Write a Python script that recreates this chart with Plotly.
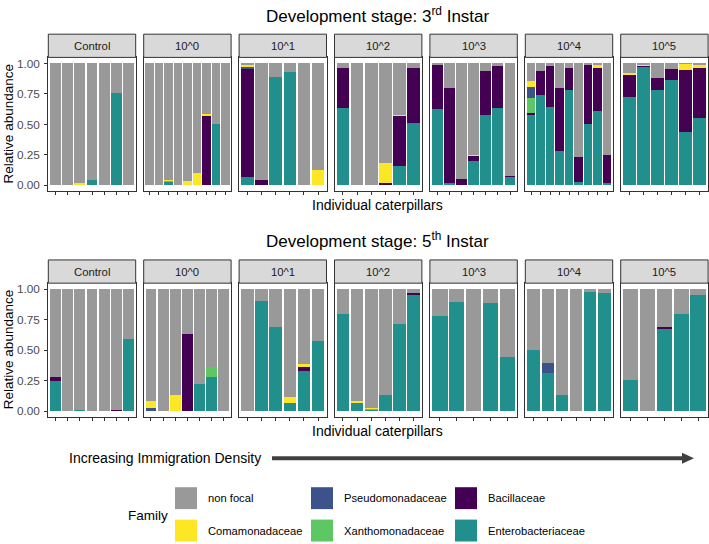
import plotly.graph_objects as go

W, H = 709, 544
FONT = "Liberation Sans, Arial, sans-serif"

panels = ["Control", "10^0", "10^1", "10^2", "10^3", "10^4", "10^5"]
stage_titles = ["Development stage: 3<sup>rd</sup> Instar", "Development stage: 5<sup>th</sup> Instar"]
x_title = "Individual caterpillars"
y_title = "Relative abundance"
y_ticks = [0, 0.25, 0.5, 0.75, 1.0]
y_ticktext = ["0.00", "0.25", "0.50", "0.75", "1.00"]

colors = {
    "non focal": "#999999",
    "Comamonadaceae": "#FDE725",
    "Pseudomonadaceae": "#3B528B",
    "Xanthomonadaceae": "#5DC863",
    "Bacillaceae": "#440154",
    "Enterobacteriaceae": "#21908C",
}

# ---------------- 3rd instar (one sub-list per panel) ----------------
ent3 = [
    [0, 0, 0, 0.04, 0, 0.755, 0],
    [0, 0, 0.025, 0, 0, 0, 0, 0.504, 0],
    [0.068, 0, 0.886, 0.932, 0, 0],
    [0.635, 0, 0, 0.005, 0.155, 0.51],
    [0.627, 0.02, 0, 0.196, 0.58, 0.635, 0.068],
    [0.58, 0.74, 0.64, 0.278, 0.785, 0.03, 0.504, 0.613, 0.02],
    [0.722, 0.975, 0.782, 0.866, 0.441, 0.55],
]
bac3 = [
    [0, 0, 0, 0, 0, 0, 0],
    [0, 0, 0, 0, 0, 0, 0.565, 0, 0],
    [0.886, 0.046, 0, 0, 0, 0],
    [0.332, 0, 0, 0.012, 0.417, 0.457],
    [0.363, 0.775, 0.05, 0.049, 0.355, 0.345, 0.012],
    [0.014, 0.195, 0.34, 0.522, 0.175, 0.2, 0.486, 0.354, 0.225],
    [0.185, 0.005, 0.098, 0.087, 0.505, 0.417],
]
xan3 = [
    [0, 0, 0, 0, 0, 0, 0],
    [0, 0, 0.012, 0, 0, 0, 0, 0, 0],
    [0, 0, 0, 0, 0, 0],
    [0, 0, 0, 0, 0, 0],
    [0, 0, 0, 0, 0, 0, 0],
    [0.12, 0, 0, 0, 0, 0, 0, 0, 0],
    [0, 0, 0, 0, 0, 0],
]
pse3 = [
    [0, 0, 0, 0, 0, 0, 0],
    [0, 0, 0, 0, 0, 0, 0, 0, 0],
    [0.019, 0, 0, 0, 0, 0],
    [0, 0, 0, 0, 0, 0],
    [0, 0, 0, 0, 0, 0, 0],
    [0.096, 0, 0, 0, 0, 0, 0, 0, 0],
    [0, 0, 0, 0, 0, 0],
]
com3 = [
    [0, 0, 0.015, 0, 0, 0, 0],
    [0, 0, 0.004, 0.006, 0.035, 0.104, 0.02, 0, 0],
    [0.016, 0, 0, 0, 0, 0.123],
    [0, 0, 0.004, 0.166, 0.006, 0],
    [0, 0, 0, 0.006, 0, 0, 0],
    [0.048, 0, 0, 0, 0, 0.005, 0, 0.023, 0],
    [0.013, 0.012, 0, 0, 0.049, 0.023],
]

# ---------------- 5th instar ----------------
ent5 = [
    [0.25, 0, 0.005, 0, 0, 0, 0.594],
    [0, 0, 0, 0, 0.226, 0.278, 0],
    [0, 0.905, 0.689, 0.068, 0.327, 0.572],
    [0.798, 0.068, 0.012, 0.128, 0.714, 0.959],
    [0.782, 0.896, 0, 0.891, 0.441],
    [0.499, 0.311, 0.136, 0, 0.975, 0.967],
    [0.256, 0, 0.676, 0.796, 0.954],
]
bac5 = [
    [0.028, 0, 0, 0, 0, 0.012, 0],
    [0, 0, 0, 0.635, 0, 0, 0],
    [0, 0, 0, 0, 0.035, 0],
    [0, 0, 0, 0, 0, 0.008],
    [0, 0, 0, 0, 0],
    [0, 0, 0, 0, 0, 0],
    [0, 0, 0.011, 0, 0],
]
xan5 = [
    [0, 0, 0, 0, 0, 0, 0],
    [0, 0, 0, 0, 0, 0.082, 0],
    [0, 0, 0, 0, 0, 0],
    [0, 0, 0.008, 0, 0, 0],
    [0, 0, 0, 0, 0],
    [0, 0, 0, 0, 0, 0],
    [0, 0, 0, 0, 0],
]
pse5 = [
    [0, 0, 0, 0, 0, 0, 0],
    [0.028, 0, 0, 0, 0, 0, 0],
    [0, 0, 0, 0, 0, 0],
    [0, 0, 0, 0, 0, 0],
    [0, 0, 0, 0, 0],
    [0, 0.087, 0, 0, 0, 0],
    [0, 0, 0, 0, 0],
]
com5 = [
    [0, 0, 0, 0, 0, 0, 0],
    [0.057, 0, 0.128, 0, 0, 0, 0],
    [0, 0, 0, 0.046, 0.025, 0],
    [0, 0.017, 0.006, 0, 0, 0],
    [0, 0, 0, 0, 0],
    [0, 0, 0, 0, 0, 0],
    [0, 0, 0, 0, 0],
]

stages = [
    {"Enterobacteriaceae": ent3, "Bacillaceae": bac3, "Xanthomonadaceae": xan3,
     "Pseudomonadaceae": pse3, "Comamonadaceae": com3},
    {"Enterobacteriaceae": ent5, "Bacillaceae": bac5, "Xanthomonadaceae": xan5,
     "Pseudomonadaceae": pse5, "Comamonadaceae": com5},
]
stack_order = ["Enterobacteriaceae", "Bacillaceae", "Xanthomonadaceae",
               "Pseudomonadaceae", "Comamonadaceae"]

# ---------------- geometry (pixels) ----------------
panel_left0 = 48.3
panel_w = 87.4
panel_step = 95.4
row_panel = [(56.6, 191.1), (283.2, 417.7)]
row_strip = [(33.3, 56.6), (259.9, 283.2)]
row_title_y = [14, 240]
row_xtitle_y = [205, 432]


def px(x):
    return x / W


def py(y):
    return 1 - y / H


fig = go.Figure()
layout = {}
shapes = []
annotations = []

for r, data in enumerate(stages):
    top, bot = row_panel[r]
    for j in range(7):
        idx = r * 7 + j + 1
        sfx = "" if idx == 1 else str(idx)
        n = len(data["Enterobacteriaceae"][j])
        xs = list(range(n))
        totals = [0.0] * n
        for fam in stack_order:
            vals = data[fam][j]
            totals = [t + v for t, v in zip(totals, vals)]
            fig.add_trace(go.Bar(
                x=xs, y=vals, xaxis="x" + sfx, yaxis="y" + sfx,
                marker=dict(color=colors[fam], line=dict(width=0)),
                showlegend=False, name=fam,
            ))
        nonfocal = [max(0.0, 1 - t) for t in totals]
        fig.add_trace(go.Bar(
            x=xs, y=nonfocal, xaxis="x" + sfx, yaxis="y" + sfx,
            marker=dict(color=colors["non focal"], line=dict(width=0)),
            showlegend=False, name="non focal",
        ))
        L = panel_left0 + j * panel_step
        layout["xaxis" + sfx] = dict(
            domain=[px(L), px(L + panel_w)], anchor="y" + sfx,
            range=[-0.6, n - 0.4], tickvals=xs, showticklabels=False,
            ticks="outside", ticklen=3, tickwidth=1, tickcolor="#333333",
            showline=True, mirror=True, linecolor="#333333", linewidth=1,
            showgrid=False, zeroline=False, fixedrange=True,
        )
        ya = dict(
            domain=[py(bot), py(top)], anchor="x" + sfx,
            range=[-0.05, 1.05], showgrid=False, zeroline=False,
            showline=True, mirror=True, linecolor="#333333", linewidth=1,
            fixedrange=True,
        )
        if j == 0:
            ya.update(tickvals=y_ticks, ticktext=y_ticktext, ticks="outside",
                      ticklen=3, tickwidth=1, tickcolor="#333333",
                      tickfont=dict(family=FONT, size=11.8, color="#4D4D4D"),
                      ticklabelstandoff=2)
        else:
            ya.update(showticklabels=False, ticks="")
        layout["yaxis" + sfx] = ya

        # strip
        s0, s1 = row_strip[r]
        shapes.append(dict(type="rect", xref="paper", yref="paper",
                           x0=px(L), x1=px(L + panel_w), y0=py(s1), y1=py(s0),
                           fillcolor="#D9D9D9", line=dict(color="#333333", width=1)))
        annotations.append(dict(text=panels[j], xref="paper", yref="paper",
                                x=px(L + panel_w / 2), y=py((s0 + s1) / 2),
                                showarrow=False, xanchor="center", yanchor="middle",
                                font=dict(family=FONT, size=11.3, color="#1A1A1A")))

    # titles
    annotations.append(dict(text=stage_titles[r], xref="paper", yref="paper",
                            x=px(378), y=py(row_title_y[r]), showarrow=False,
                            xanchor="center", yanchor="middle",
                            font=dict(family=FONT, size=17, color="#000000")))
    annotations.append(dict(text=x_title, xref="paper", yref="paper",
                            x=px(378), y=py(row_xtitle_y[r]), showarrow=False,
                            xanchor="center", yanchor="middle",
                            font=dict(family=FONT, size=14, color="#000000")))
    annotations.append(dict(text=y_title, xref="paper", yref="paper",
                            x=px(8), y=py((top + bot) / 2), showarrow=False,
                            xanchor="center", yanchor="middle", textangle=-90,
                            font=dict(family=FONT, size=13.5, color="#000000")))

# arrow
arrow_y = 459
annotations.append(dict(text="Increasing Immigration Density", xref="paper", yref="paper",
                        x=px(67), y=py(arrow_y), showarrow=False,
                        xanchor="left", yanchor="middle",
                        font=dict(family=FONT, size=14, color="#000000")))
shapes.append(dict(type="line", xref="paper", yref="paper",
                   x0=px(272), x1=px(684), y0=py(arrow_y), y1=py(arrow_y),
                   line=dict(color="#404040", width=4)))
shapes.append(dict(type="path", xref="paper", yref="paper",
                   path=f"M {px(682)} {py(arrow_y - 5.5)} L {px(694)} {py(arrow_y)} L {px(682)} {py(arrow_y + 5.5)} Z",
                   fillcolor="#404040", line=dict(color="#404040", width=0)))

# legend (manual, 3 columns x 2 rows)
legend_cols = [["non focal", "Comamonadaceae"],
               ["Pseudomonadaceae", "Xanthomonadaceae"],
               ["Bacillaceae", "Enterobacteriaceae"]]
key_x = [175, 311, 455]
key_y = [488, 520.5]
key_size = 22
for c, items in enumerate(legend_cols):
    for rr, fam in enumerate(items):
        x0, y0 = key_x[c], key_y[rr]
        shapes.append(dict(type="rect", xref="paper", yref="paper",
                           x0=px(x0), x1=px(x0 + key_size), y0=py(y0 + key_size), y1=py(y0),
                           fillcolor=colors[fam], line=dict(width=0)))
        annotations.append(dict(text=fam, xref="paper", yref="paper",
                                x=px(x0 + key_size + 9), y=py(y0 + key_size / 2),
                                showarrow=False, xanchor="left", yanchor="middle",
                                font=dict(family=FONT, size=11.2, color="#000000")))
annotations.append(dict(text="Family", xref="paper", yref="paper",
                        x=px(126), y=py(516.5), showarrow=False,
                        xanchor="left", yanchor="middle",
                        font=dict(family=FONT, size=13.5, color="#000000")))

fig.update_layout(
    width=W, height=H, margin=dict(l=0, r=0, t=0, b=0),
    barmode="stack", bargap=0.1,
    plot_bgcolor="white", paper_bgcolor="white",
    shapes=shapes, annotations=annotations, showlegend=False,
    **layout,
)

fig.write_html("out.html")
